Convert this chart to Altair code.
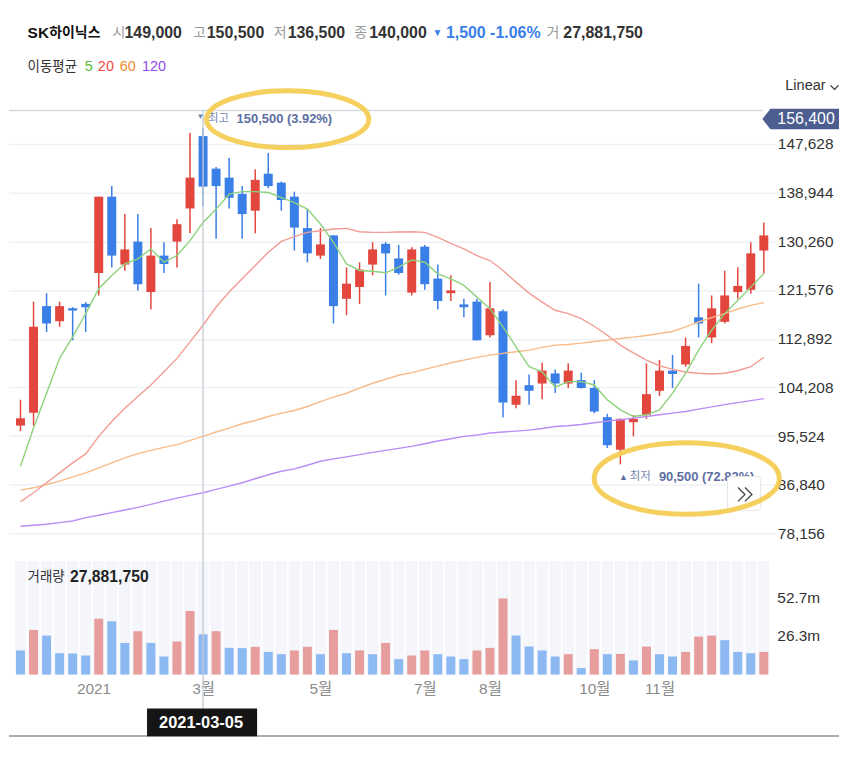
import altair as alt
import pandas as pd

FONT = "Liberation Sans, Noto Sans CJK KR, sans-serif"

# ---------------- data (weekly candles, index 0 = week ending 2020-11-27) ----------------
week = list(range(58))
opens = [97400, 99700, 118700, 116000, 118300, 119100, 124600, 138200, 126100, 130200,
         121200, 127700, 130200, 136100, 149000, 143200, 141600, 138700, 135700, 142300,
         140700, 138200, 132600, 127700, 131300, 120000, 122100, 126100, 129800, 127200,
         121100, 129300, 123600, 121000, 119000, 119500, 113500, 117800, 101100, 104600,
         104900, 106700, 104900, 105500, 104100, 98900, 93100, 98000, 99300, 103600,
         107200, 108300, 116700, 113100, 115900, 121200, 121600, 128600]
highs = [102000, 119500, 121000, 119500, 118500, 119400, 138200, 140100, 135100, 135100,
         132600, 130100, 134200, 149600, 150500, 143500, 145100, 140100, 143100, 146000,
         140900, 139100, 136000, 132600, 131300, 125600, 126500, 130100, 130100, 129600,
         129200, 129600, 126100, 124200, 120000, 120000, 123000, 118100, 105500, 106500,
         108600, 107400, 108500, 106800, 105500, 99500, 98700, 99300, 108500, 109100,
         110000, 113100, 122700, 120600, 125000, 125600, 130100, 133600]
lows = [96400, 97400, 114100, 115000, 112600, 114100, 120600, 125600, 125000, 121500,
        118100, 124600, 125600, 131700, 136500, 130700, 136100, 130700, 131700, 139700,
        135700, 128600, 126500, 127100, 115600, 117100, 119100, 124200, 120600, 124300,
        120600, 121600, 118100, 119600, 116700, 112600, 113100, 98900, 100500, 101100,
        102100, 103200, 104100, 104000, 99600, 93400, 90500, 95500, 98600, 102700,
        104100, 107900, 113100, 112100, 115600, 120000, 120900, 124500]
closes = [98700, 115000, 115600, 118700, 117900, 118500, 138200, 127700, 128800, 122600,
          127700, 126200, 133300, 141600, 140000, 140100, 138000, 135100, 141200, 140100,
          137600, 132700, 128100, 129700, 118700, 122700, 125200, 128800, 128100, 124600,
          128800, 122600, 119600, 121500, 118500, 112600, 118300, 101500, 102700, 103600,
          107200, 104900, 107200, 104100, 99900, 93900, 98600, 98600, 103000, 107200,
          106600, 111600, 115600, 118300, 120600, 122300, 128100, 131300]
volume_m = [16.7, 30.9, 27.0, 14.8, 14.6, 13.2, 38.7, 36.9, 21.9, 30.0,
            21.9, 12.5, 22.9, 44.0, 27.88175, 30.0, 18.5, 18.3, 19.2, 15.7,
            14.1, 16.7, 19.2, 14.1, 30.9, 14.8, 16.7, 14.1, 21.9, 10.7,
            13.2, 16.7, 14.1, 12.5, 10.7, 16.7, 18.5, 52.7, 27.0, 19.4,
            16.7, 12.5, 14.1, 4.5, 17.6, 14.1, 14.3, 9.8, 19.4, 14.1,
            12.5, 15.7, 26.3, 27.0, 23.8, 15.7, 14.8, 15.7]
ma5 = [90150, 96960, 103170, 109380, 113210, 117360, 121800, 124160, 126230, 127120,
       128900, 126520, 127710, 130370, 133610, 135990, 138650, 139110, 139110, 138940,
       138050, 137160, 135990, 133330, 130070, 126230, 125050, 124920, 124640, 125630,
       126940, 126520, 124460, 123570, 122380, 120310, 118250, 114990, 111440, 107890,
       107000, 104240, 105230, 105230, 104640, 101980, 100210, 99020, 99320, 100210,
       103170, 106720, 110850, 114400, 117360, 119680, 122080, 124460]
ma20 = [83840, 85430, 87210, 88980, 90750, 92350, 95470, 98130, 100510, 102570,
        104640, 107000, 109380, 112330, 115280, 118530, 121200, 123570, 125930, 128290,
        130240, 131080, 131840, 132140, 132440, 132550, 131960, 131840, 131840, 131910,
        131960, 131840, 130950, 129890, 128900, 127710, 126820, 125050, 122970, 121020,
        119420, 117950, 117360, 116480, 115110, 113510, 111740, 110370, 109080, 108070,
        107430, 106950, 106720, 106600, 106720, 107180, 107890, 109560]
ma60 = [85890, 86310, 86900, 87490, 88270, 88980, 89870, 90750, 91640, 92400,
        92990, 93520, 94000, 94760, 95470, 96250, 96960, 97730, 98310, 99020,
        99620, 100090, 100800, 101680, 102460, 103170, 104060, 104950, 105660, 106370,
        106830, 107430, 108010, 108600, 109080, 109560, 109970, 110270, 110550, 110850,
        111330, 111740, 111860, 112100, 112400, 112630, 112930, 113160, 113460, 113820,
        114170, 114990, 115870, 116650, 117360, 118180, 118840, 119320]
ma120 = [79450, 79630, 79810, 80110, 80390, 81000, 81410, 81880, 82350, 82820,
         83360, 83940, 84470, 84950, 85430, 86020, 86600, 87210, 87920, 88630,
         89260, 89690, 90330, 91040, 91460, 91820, 92220, 92630, 92980, 93340,
         93690, 94170, 94650, 95060, 95470, 95710, 96070, 96250, 96420, 96600,
         96890, 97240, 97370, 97600, 97900, 98200, 98440, 98740, 99020, 99320,
         99620, 99910, 100340, 100730, 101130, 101500, 101850, 102210]

price_ticks = [78156, 86840, 95524, 104208, 112892, 121576, 130260, 138944, 147628]
x_tick_pos = [5.6, 14, 23, 31, 36, 44, 49]
x_tick_labels = ["2021", "3월", "5월", "7월", "8월", "10월", "11월"]
vol_tick_values = [26.35e6, 52.7e6]
vol_tick_labels = ["26.3m", "52.7m"]
crosshair_week = 14

df = pd.DataFrame({"i": week, "open": opens, "high": highs, "low": lows, "close": closes,
                   "volume": [v * 1e6 for v in volume_m],
                   "ma5": ma5, "ma20": ma20, "ma60": ma60, "ma120": ma120})
df["vol_up"] = df["volume"].diff().fillna(-1) > 0

RED, BLUE = "#e2463d", "#3a7ee7"
VRED, VBLUE = "#e89d9d", "#8cb9f2"

xs = alt.Scale(domain=[-0.5, 57.5], nice=False, zero=False)
ps = alt.Scale(domain=[53021, 171524], nice=False, zero=False)
vs = alt.Scale(domain=[0, 460.3e6], nice=False, zero=False)

label_expr = "{" + ", ".join(f"'{p:g}': '{t}'" for p, t in zip(x_tick_pos, x_tick_labels)) + "}[datum.value]"
x_axis = alt.Axis(values=x_tick_pos, labelExpr=label_expr, title=None, orient="bottom",
                  domain=False, ticks=False, grid=False, labelFontSize=15.5,
                  labelColor="#8a8a8a", labelPadding=7, labelFont=FONT,
                  labelOverlap=False, labelFlush=False)
X = alt.X("i:Q", scale=xs, axis=x_axis)

p_axis = alt.Axis(orient="right", values=price_ticks, format=",d", title=None, domain=False,
                  ticks=False, tickSize=0, grid=True, gridColor="#eff1f5", gridWidth=1.5,
                  labelFontSize=15.5, labelColor="#333333", labelPadding=2, labelFont=FONT,
                  labelOverlap=False, labelFlush=False)


def PY(f):
    return alt.Y(f"{f}:Q", scale=ps, axis=p_axis)


candle_color = alt.condition("datum.close >= datum.open", alt.value(RED), alt.value(BLUE))
wicks = alt.Chart(df).mark_rule(strokeWidth=1.5).encode(x=X, y=PY("low"), y2=alt.Y2("high:Q"), color=candle_color)
bodies = alt.Chart(df).mark_bar(size=9).encode(x=X, y=PY("open"), y2=alt.Y2("close:Q"), color=candle_color)
ma_lines = [alt.Chart(df).mark_line(color=c, strokeWidth=1.4).encode(x=X, y=PY(f))
            for f, c in [("ma120", "#bb8cf6"), ("ma60", "#f8bb87"), ("ma20", "#f29c95"), ("ma5", "#8dd27b")]]
price_layer = alt.layer(wicks, bodies, *ma_lines)

stripes = alt.Chart(df).mark_rule(strokeWidth=11.5, color="#f4f6fb").encode(x=X, y=alt.value(554), y2=alt.value(668))
vol_bars = alt.Chart(df).mark_bar(size=9).encode(
    x=X, y=alt.Y("volume:Q", scale=vs, axis=None),
    color=alt.condition("datum.vol_up", alt.value(VRED), alt.value(VBLUE)))
vol_labels = alt.Chart(pd.DataFrame({"v": vol_tick_values, "t": vol_tick_labels})).mark_text(
    align="left", baseline="middle", fontSize=15.5, color="#333333", font=FONT).encode(
    x=alt.value(772), y=alt.Y("v:Q", scale=vs, axis=None), text="t:N")
volume_layer = alt.layer(stripes, vol_bars, vol_labels)

ONE = pd.DataFrame({"k": [0]})


def txt(text, x, y, size, color, weight="normal", align="left", baseline="middle"):
    return alt.Chart(ONE).mark_text(align=align, baseline=baseline, fontSize=size, font=FONT,
                                    fontWeight=weight, color=color).encode(
        x=alt.value(x), y=alt.value(y), text=alt.value(text))


def sym(shape, x, y, size, stroke=None, fill=None, sw=1.0, opacity=1.0):
    kw = dict(shape=shape, size=size, opacity=opacity, strokeWidth=sw)
    if fill is not None:
        kw.update(filled=True, fill=fill, strokeOpacity=0)
    else:
        kw.update(filled=False, stroke=stroke)
    return alt.Chart(ONE).mark_point(**kw).encode(x=alt.value(x), y=alt.value(y))


ann = []
# top border line
ann.append(alt.Chart(ONE).mark_rule(color="#d6d9df", strokeWidth=1.5).encode(
    x=alt.value(0), x2=alt.value(757), y=alt.value(101.3)))
# crosshair
ann.append(alt.Chart(pd.DataFrame({"i": [crosshair_week]})).mark_rule(
    color="#c6cad0", strokeWidth=1.5, opacity=0.9).encode(x=X, y=alt.value(101), y2=alt.value(702)))

# header row 1
GREY, DARK = "#9a9a9a", "#333333"
HY = 23.7
ann += [
    txt("SK", 18.7, HY, 15.5, "#111111", "bold"),
    txt("하이닉스", 40.4, HY, 14, "#111111", "bold"),
    txt("시", 104, HY, 14, GREY), txt("149,000", 116, HY, 16, DARK, "bold"),
    txt("고", 185, HY, 14, GREY), txt("150,500", 198.7, HY, 16, DARK, "bold"),
    txt("저", 266, HY, 14, GREY), txt("136,500", 280, HY, 16, DARK, "bold"),
    txt("종", 347, HY, 14, GREY), txt("140,000", 362, HY, 16, DARK, "bold"),
    txt("▼", 425.6, HY, 10, BLUE), txt("1,500 -1.06%", 439, HY, 16, BLUE, "bold"),
    txt("거", 540, HY, 14, GREY), txt("27,881,750", 557, HY, 16, DARK, "bold"),
]
# header row 2 (moving averages)
MY = 57.7
ann += [
    txt("이동평균", 18.7, MY, 13.5, DARK),
    txt("5", 76, MY, 14.5, "#5cbf3e"), txt("20", 89.3, MY, 14.5, "#ee4b45"),
    txt("60", 111.3, MY, 14.5, "#f08a30"), txt("120", 133.7, MY, 14.5, "#9048f0"),
]
# scale selector
ann.append(txt("Linear", 780, 77, 14.6, DARK))
ann.append(sym("M -1 -0.5 L 0 0.5 L 1 -0.5", 829.5, 78, 64, stroke=DARK, sw=1.3))
# current price tag
ann.append(sym("M -1 0 L -0.79 -0.27 L 1 -0.27 L 1 0.27 L -0.79 0.27 Z", 795.5, 109.8, 5929, fill="#4c5d8f"))
ann.append(txt("156,400", 772, 110.3, 16, "#ffffff"))

# high marker
SLATE, SLATE2 = "#5c6ea2", "#7787b0"
ann += [
    txt("▼", 192.3, 108, 8, SLATE2, align="center"),
    txt("최고", 200, 109.3, 11.5, SLATE2),
    txt("150,500 (3.92%)", 228.7, 109.3, 13, SLATE, "bold"),
]
# low marker
ann += [
    txt("▲", 617.3, 469.3, 9, SLATE, align="center"),
    txt("최저", 623.7, 469.3, 11.5, SLATE2),
    txt("90,500 (72.82%)", 653, 469.3, 13, SLATE, "bold"),
]
# scroll button
ann.append(alt.Chart(ONE).mark_rect(fill="#ffffff", stroke="#e4e5e8", strokeWidth=1, cornerRadius=3).encode(
    x=alt.value(722), x2=alt.value(755.3), y=alt.value(469), y2=alt.value(503)))
ann.append(sym("M -1 -1 L 0 0 L -1 1 M 0 -1 L 1 0 L 0 1", 739.5, 487, 196, stroke="#444444", sw=1.3))

# highlight ellipses
YEL = "#f6cd52"
ann.append(sym("M -1 0 A 1 0.35 0 1 0 1 0 A 1 0.35 0 1 0 -1 0 Z", 280, 110, 163 * 163, stroke=YEL, sw=5, opacity=0.92))
ann.append(sym("M -1 0 A 1 0.387 0 1 0 1 0 A 1 0.387 0 1 0 -1 0 Z", 681, 471, 186 * 186, stroke=YEL, sw=5, opacity=0.92))

# volume title
ann += [txt("거래량", 18.7, 570.3, 13.5, DARK), txt("27,881,750", 61.3, 570.3, 15.8, "#222222", "bold")]

# date tag and bottom line
ann.append(alt.Chart(ONE).mark_rule(color="#8e949c", strokeWidth=1.5).encode(
    x=alt.value(0), x2=alt.value(834), y=alt.value(729.7)))
ann.append(alt.Chart(ONE).mark_rect(color="#151515").encode(
    x=alt.value(138.7), x2=alt.value(249.3), y=alt.value(702), y2=alt.value(730)))
ann.append(txt("2021-03-05", 193, 716.3, 16.5, "#ffffff", "bold", align="center"))

chart = alt.layer(volume_layer, price_layer, *ann).resolve_scale(y="independent").properties(
    width=770, height=668, padding={"left": 0, "top": 0, "right": 0, "bottom": 0},
    background="white"
).configure_view(stroke=None)

chart.save("out.html", embed_options={"renderer": "svg", "actions": False})
